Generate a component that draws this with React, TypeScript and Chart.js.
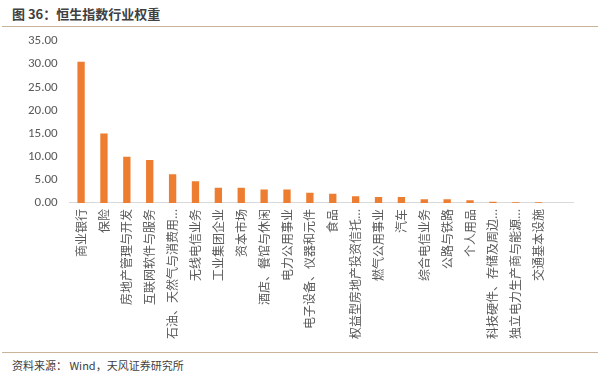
import React, { useEffect, useRef } from "react";
import { Chart, registerables } from "chart.js";

Chart.register(...registerables);

const categories: string[] = [
  "商业银行",
  "保险",
  "房地产管理与开发",
  "互联网软件与服务",
  "石油、天然气与消费用...",
  "无线电信业务",
  "工业集团企业",
  "资本市场",
  "酒店、餐馆与休闲",
  "电力公用事业",
  "电子设备、仪器和元件",
  "食品",
  "权益型房地产投资信托...",
  "燃气公用事业",
  "汽车",
  "综合电信业务",
  "公路与铁路",
  "个人用品",
  "科技硬件、存储及周边...",
  "独立电力生产商与能源...",
  "交通基本设施",
  "",
];

const weights: (number | null)[] = [
  30.5, 15.0, 10.0, 9.3, 6.2, 4.7, 3.3, 3.3, 2.9, 2.9, 2.2, 2.0, 1.45, 1.3, 1.3,
  0.8, 0.8, 0.6, 0.25, 0.15, 0.15, null,
];

const yTicks: number[] = [0, 5, 10, 15, 20, 25, 30, 35];

const titleText = "图 36：恒生指数行业权重";
const sourceText = "资料来源： Wind，天风证券研究所";

export default function App() {
  const canvasRef = useRef<HTMLCanvasElement | null>(null);

  useEffect(() => {
    document.body.style.margin = "0";
    const ctx = canvasRef.current;
    if (!ctx) return;
    const chart = new Chart(ctx, {
      type: "bar",
      data: {
        labels: categories,
        datasets: [
          {
            data: weights,
            backgroundColor: "#ED7D31",
            categoryPercentage: 1,
            barPercentage: 0.32,
          },
        ],
      },
      options: {
        animation: false,
        responsive: false,
        maintainAspectRatio: false,
        layout: { padding: { top: 34, left: 16, right: 27, bottom: 0 } },
        plugins: {
          legend: { display: false },
          tooltip: { enabled: false },
        },
        scales: {
          x: {
            grid: { display: false, drawTicks: false },
            border: { display: true, color: "#d9d9d9", width: 1 },
            ticks: {
              autoSkip: false,
              minRotation: 90,
              maxRotation: 90,
              padding: 6,
              color: "#595959",
              font: { family: "'Noto Sans CJK SC', sans-serif", size: 12 },
            },
          },
          y: {
            min: 0,
            max: 35,
            afterBuildTicks: (axis: any) => {
              axis.ticks = yTicks.map((v) => ({ value: v }));
            },
            grid: { display: false, drawTicks: false },
            border: { display: false },
            ticks: {
              padding: 12,
              color: "#595959",
              font: { family: "Calibri, 'Liberation Sans', 'Open Sans', sans-serif", size: 13 },
              callback: (v: any) => Number(v).toFixed(2),
            },
          },
        },
      },
    });
    return () => chart.destroy();
  }, []);

  return (
    <div
      style={{
        position: "relative",
        width: 600,
        height: 379,
        background: "#fff",
        overflow: "hidden",
        fontFamily: "'Noto Sans CJK SC', sans-serif",
      }}
    >
      <div
        style={{
          position: "absolute",
          left: 12,
          top: 4,
          fontSize: 13,
          fontWeight: "bold",
          color: "#404040",
          whiteSpace: "nowrap",
        }}
      >
        {titleText}
      </div>
      <div
        style={{
          position: "absolute",
          left: 2,
          width: 596,
          top: 26,
          height: 1,
          background: "#c9b39a",
        }}
      />
      <canvas
        ref={canvasRef}
        width={600}
        height={338}
        style={{ position: "absolute", left: 0, top: 7, width: 600, height: 338 }}
      />
      <div
        style={{
          position: "absolute",
          left: 2,
          width: 596,
          top: 352,
          height: 1,
          background: "#c9b39a",
        }}
      />
      <div
        style={{
          position: "absolute",
          left: 12,
          top: 357,
          fontSize: 11,
          color: "#404040",
          whiteSpace: "nowrap",
        }}
      >
        {sourceText}
      </div>
    </div>
  );
}
